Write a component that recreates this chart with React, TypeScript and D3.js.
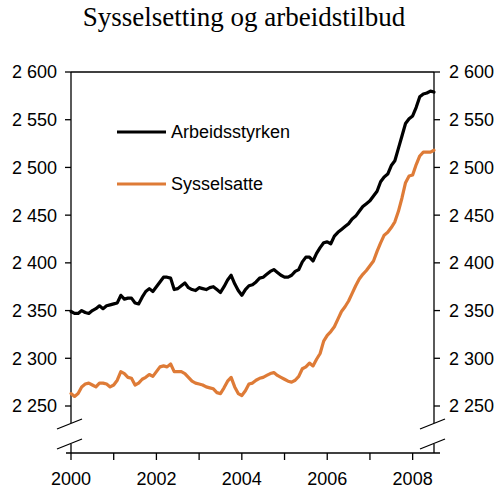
import * as d3 from "d3";

// ── Data (monthly, Jan 2000 – Jul 2008, thousand persons) ─────
const START_YEAR = 2000;

const arbeidsstyrken = [
  2349, 2347, 2347, 2350, 2348, 2347, 2350, 2352, 2355, 2352, 2355, 2356,
  2357, 2358, 2366, 2362, 2363, 2363, 2358, 2357, 2364, 2370, 2373, 2370,
  2375, 2380, 2385, 2385, 2384, 2372, 2373, 2376, 2379, 2374, 2372, 2371,
  2374, 2373, 2372, 2374, 2375, 2372, 2369, 2375, 2382, 2387, 2378, 2371,
  2366, 2372, 2376, 2377, 2380, 2384, 2385, 2388, 2391, 2393, 2390, 2387,
  2385, 2385, 2387, 2391, 2393, 2401, 2406, 2406, 2402, 2410, 2416, 2421,
  2422, 2420, 2428, 2432, 2435, 2438, 2441, 2446, 2449, 2454, 2459, 2462,
  2465, 2470, 2475, 2485, 2490, 2493, 2502, 2507, 2520, 2533, 2546, 2551,
  2554, 2563, 2574, 2577, 2578, 2580, 2579,
];

const sysselsatte = [
  2263, 2260, 2263, 2270, 2273, 2274, 2272, 2270, 2274, 2274, 2273, 2270,
  2272, 2277, 2286, 2284, 2280, 2279, 2272, 2274, 2278, 2280, 2283, 2281,
  2286, 2291, 2292, 2291, 2294, 2286, 2286, 2286, 2284, 2280, 2276, 2274,
  2273, 2272, 2270, 2269, 2268, 2264, 2263, 2269, 2276, 2280, 2270, 2263,
  2261, 2266, 2273, 2274, 2277, 2279, 2280, 2282, 2284, 2285, 2282, 2280,
  2278, 2276, 2275, 2277, 2281, 2289, 2291, 2295, 2292, 2299, 2305, 2318,
  2324, 2328, 2333, 2341, 2349, 2354, 2360, 2368, 2376, 2383, 2388, 2392,
  2397, 2402, 2412, 2421, 2429, 2432, 2437, 2443, 2454, 2468, 2484, 2491,
  2492, 2503, 2512, 2516, 2516, 2516, 2518,
];

const yTicks = [2250, 2300, 2350, 2400, 2450, 2500, 2550, 2600];
const yearTicks = [2000, 2001, 2002, 2003, 2004, 2005, 2006, 2007, 2008];
const yearLabels = [2000, 2002, 2004, 2006, 2008];

const TITLE = "Sysselsetting og arbeidstilbud";
const seriesNames = ["Arbeidsstyrken", "Sysselsatte"];
const seriesColors = ["#000000", "#de7b37"];

// ── Layout ────────────────────────────────────────────────────
const W = 500, H = 493;
const LEFT = 71, RIGHT = 434, TOP = 72, BASE = 453;
const SANS = "'Liberation Sans', Arial, sans-serif";

const fmt = (v: number) => d3.format(",")(v).replace(",", " ");

function BreakMark({ x, y }: { x: number; y: number }) {
  return <line x1={x - 14} y1={y + 5} x2={x + 11} y2={y - 5} stroke="#000" strokeWidth={1.3} />;
}

export default function App() {
  const x = d3.scaleLinear().domain([START_YEAR, START_YEAR + 8.5]).range([LEFT, RIGHT]);
  const y = d3.scaleLinear().domain([2250, 2600]).range([406, TOP]);

  const line = d3.line<number>()
    .x((_d, i) => x(START_YEAR + i / 12))
    .y((d) => y(d));

  const series = [arbeidsstyrken, sysselsatte];

  return (
    <div style={{ position: "absolute", left: 0, top: 0 }}>
      <svg width={W} height={H} style={{ display: "block", background: "#fff" }}>
        <text x={244} y={26} textAnchor="middle"
          style={{ fontFamily: "'Liberation Serif', 'Times New Roman', serif", fontSize: 27 }}>
          {TITLE}
        </text>

        {/* frame */}
        <line x1={LEFT} y1={TOP} x2={RIGHT} y2={TOP} stroke="#000" strokeWidth={1.3} />
        {[LEFT, RIGHT].map((ax) => (
          <g key={ax}>
            <line x1={ax} y1={TOP} x2={ax} y2={423} stroke="#000" strokeWidth={1.3} />
            <line x1={ax} y1={444} x2={ax} y2={BASE} stroke="#000" strokeWidth={1.3} />
            <BreakMark x={ax} y={424} />
            <BreakMark x={ax} y={444} />
          </g>
        ))}
        <line x1={LEFT - 5} y1={BASE} x2={RIGHT + 6} y2={BASE} stroke="#000" strokeWidth={1.3} />

        {/* y axes */}
        {yTicks.map((t) => (
          <g key={t} style={{ fontFamily: SANS, fontSize: 18 }}>
            <line x1={LEFT - 6} y1={y(t)} x2={LEFT} y2={y(t)} stroke="#000" strokeWidth={1.3} />
            <line x1={RIGHT} y1={y(t)} x2={RIGHT + 6} y2={y(t)} stroke="#000" strokeWidth={1.3} />
            <text x={57} y={y(t)} dy="0.36em" textAnchor="end">{fmt(t)}</text>
            <text x={449} y={y(t)} dy="0.36em">{fmt(t)}</text>
          </g>
        ))}

        {/* x axis */}
        {yearTicks.map((t) => (
          <line key={t} x1={x(t)} y1={BASE} x2={x(t)} y2={BASE + 7} stroke="#000" strokeWidth={1.3} />
        ))}
        {yearLabels.map((t) => (
          <text key={t} x={x(t)} y={485} textAnchor="middle"
            style={{ fontFamily: SANS, fontSize: 18 }}>{t}</text>
        ))}

        {/* series */}
        {series.map((s, i) => (
          <path key={i} d={line(s) ?? ""} fill="none" stroke={seriesColors[i]}
            strokeWidth={3.2} strokeLinejoin="round" strokeLinecap="round" />
        ))}

        {/* legend */}
        {seriesNames.map((name, i) => {
          const ly = 132 + i * 52;
          return (
            <g key={name}>
              <line x1={117} y1={ly} x2={166} y2={ly} stroke={seriesColors[i]} strokeWidth={3.2} />
              <text x={171} y={ly} dy="0.36em" style={{ fontFamily: SANS, fontSize: 18 }}>{name}</text>
            </g>
          );
        })}
      </svg>
    </div>
  );
}
